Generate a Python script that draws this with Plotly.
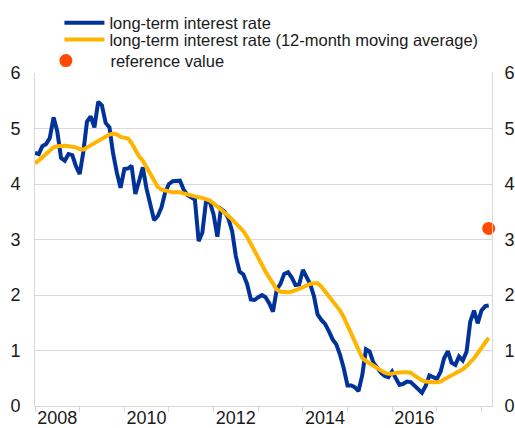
import pandas as pd
import plotly.graph_objects as go

BLUE = '#003299'
YELLOW = '#FFB400'
RED = '#FF4B00'
GRID = '#d9d9d9'
TEXT = '#1a1a1a'

# monthly observations, Jan 2008 - Mar 2018
months = pd.date_range('2008-01-01', '2018-03-01', freq='MS')

long_term_rate = [
    4.56, 4.54, 4.68, 4.72, 4.83, 5.20, 4.95, 4.47, 4.42, 4.54, 4.52, 4.32,
    4.18, 4.60, 5.12, 5.22, 5.02, 5.48, 5.42, 5.10, 5.02, 4.55, 4.20, 3.93,
    4.27, 4.28, 4.33, 3.82, 4.05, 4.30, 3.92, 3.62, 3.35, 3.42, 3.58, 3.85,
    4.00, 4.05, 4.06, 4.06, 3.90, 3.80, 3.76, 3.72, 2.97, 3.12, 3.70, 3.68,
    3.45, 3.05, 3.55, 3.50, 3.38, 3.15, 2.70, 2.42, 2.37, 2.20, 1.92, 1.91,
    1.96, 2.00, 1.96, 1.85, 1.70, 2.10, 2.20, 2.38, 2.41, 2.32, 2.18, 2.19,
    2.45, 2.30, 2.20, 1.98, 1.65, 1.55, 1.48, 1.35, 1.20, 1.11, 0.92, 0.68,
    0.37, 0.37, 0.34, 0.27, 0.55, 1.02, 0.98, 0.78, 0.68, 0.60, 0.54, 0.52,
    0.62, 0.50, 0.38, 0.40, 0.44, 0.43, 0.37, 0.29, 0.24, 0.36, 0.55, 0.52,
    0.49, 0.62, 0.86, 0.99, 0.78, 0.74, 0.89, 0.82, 0.98, 1.52, 1.72, 1.49,
    1.72, 1.80, 1.81,
]

moving_average = [
    4.37, 4.42, 4.48, 4.54, 4.61, 4.66, 4.68, 4.69, 4.69, 4.68, 4.67, 4.66,
    4.63, 4.62, 4.66, 4.70, 4.74, 4.77, 4.80, 4.84, 4.89, 4.91, 4.89, 4.85,
    4.84, 4.82, 4.74, 4.62, 4.50, 4.42, 4.31, 4.18, 4.05, 3.95, 3.90, 3.88,
    3.86, 3.85, 3.85, 3.85, 3.83, 3.81, 3.79, 3.77, 3.76, 3.75, 3.73, 3.70,
    3.65, 3.60, 3.54, 3.48, 3.43, 3.36, 3.29, 3.22, 3.15, 3.05, 2.93, 2.78,
    2.68, 2.54, 2.42, 2.30, 2.19, 2.10, 2.06, 2.05, 2.05, 2.06, 2.08, 2.11,
    2.14, 2.18, 2.20, 2.21, 2.21, 2.15, 2.07, 1.98, 1.90, 1.82, 1.72, 1.60,
    1.45, 1.30, 1.15, 1.00, 0.87, 0.81, 0.77, 0.72, 0.68, 0.63, 0.60, 0.58,
    0.58, 0.60, 0.61, 0.61, 0.61, 0.60, 0.55, 0.50, 0.46, 0.44, 0.43, 0.43,
    0.43, 0.44, 0.48, 0.52, 0.55, 0.58, 0.62, 0.66, 0.72, 0.78, 0.86, 0.95,
    1.04, 1.14, 1.23,
]

reference_date = ['2018-03-01']
reference_value = [3.2]

year_labels = ['2008', '2010', '2012', '2014', '2016']
year_starts = [f'{y}-01-01' for y in range(2008, 2019)]

fig = go.Figure()

fig.add_trace(go.Scatter(
    x=months, y=long_term_rate, mode='lines',
    name='long-term interest rate',
    line={'color': BLUE, 'width': 4},
    legend='legend',
))
fig.add_trace(go.Scatter(
    x=months, y=moving_average, mode='lines',
    name='long-term interest rate (12-month moving average)',
    line={'color': YELLOW, 'width': 4},
    legend='legend2',
))
fig.add_trace(go.Scatter(
    x=reference_date, y=reference_value, mode='markers',
    name='reference value',
    marker={'color': RED, 'size': 13},
    cliponaxis=False,
    legend='legend3',
))
# invisible trace to carry the right-hand axis
fig.add_trace(go.Scatter(
    x=reference_date, y=reference_value, mode='markers',
    yaxis='y2', showlegend=False, hoverinfo='skip',
    marker={'opacity': 0},
))


def legend_box(y, x=0.0534, itemwidth=40):
    return {
        'x': x,
        'y': y,
        'xanchor': 'left',
        'yanchor': 'top',
        'font': {'size': 16.5},
        'bgcolor': 'rgba(0,0,0,0)',
        'itemwidth': itemwidth,
        'itemclick': False,
    }


fig.update_layout(
    width=515,
    height=428,
    margin={'l': 35, 'r': 23, 't': 73, 'b': 22, 'autoexpand': False},
    plot_bgcolor='white',
    paper_bgcolor='white',
    font={'family': 'Liberation Sans, Arial, sans-serif', 'size': 18, 'color': TEXT},
    xaxis={
        'type': 'date',
        'range': ['2008-01-01', '2018-03-28'],
        'tickmode': 'array',
        'tickvals': [f'{y}-07-01' for y in year_labels],
        'ticktext': year_labels,
        'ticks': '',
        'ticklabelstandoff': -5,
        'showgrid': False,
        'zeroline': False,
        'showline': True,
        'linecolor': GRID,
        'linewidth': 1,
        'automargin': False,
        'minor': {
            'tickmode': 'array',
            'tickvals': year_starts,
            'ticks': 'outside',
            'ticklen': 5,
            'tickcolor': GRID,
            'showgrid': False,
        },
        'fixedrange': True,
    },
    yaxis={
        'range': [0, 6],
        'dtick': 1,
        'showgrid': True,
        'gridcolor': GRID,
        'gridwidth': 1,
        'zeroline': False,
        'showline': True,
        'linecolor': GRID,
        'ticks': '',
        'ticklabelstandoff': 10,
        'automargin': False,
        'fixedrange': True,
    },
    yaxis2={
        'range': [0, 6],
        'dtick': 1,
        'overlaying': 'y',
        'side': 'right',
        'showgrid': False,
        'zeroline': False,
        'showline': True,
        'linecolor': GRID,
        'ticks': '',
        'ticklabelstandoff': 8,
        'automargin': False,
        'fixedrange': True,
    },
    showlegend=True,
    legend=legend_box(1.203),
    legend2=legend_box(1.152),
    legend3=legend_box(1.089, x=-0.0298, itemwidth=79),
)

# drop the default page margin so the figure sits at the window's corner
fig.write_html(
    'out.html',
    config={'displayModeBar': False},
    post_script="document.body.style.margin = '0';",
)
